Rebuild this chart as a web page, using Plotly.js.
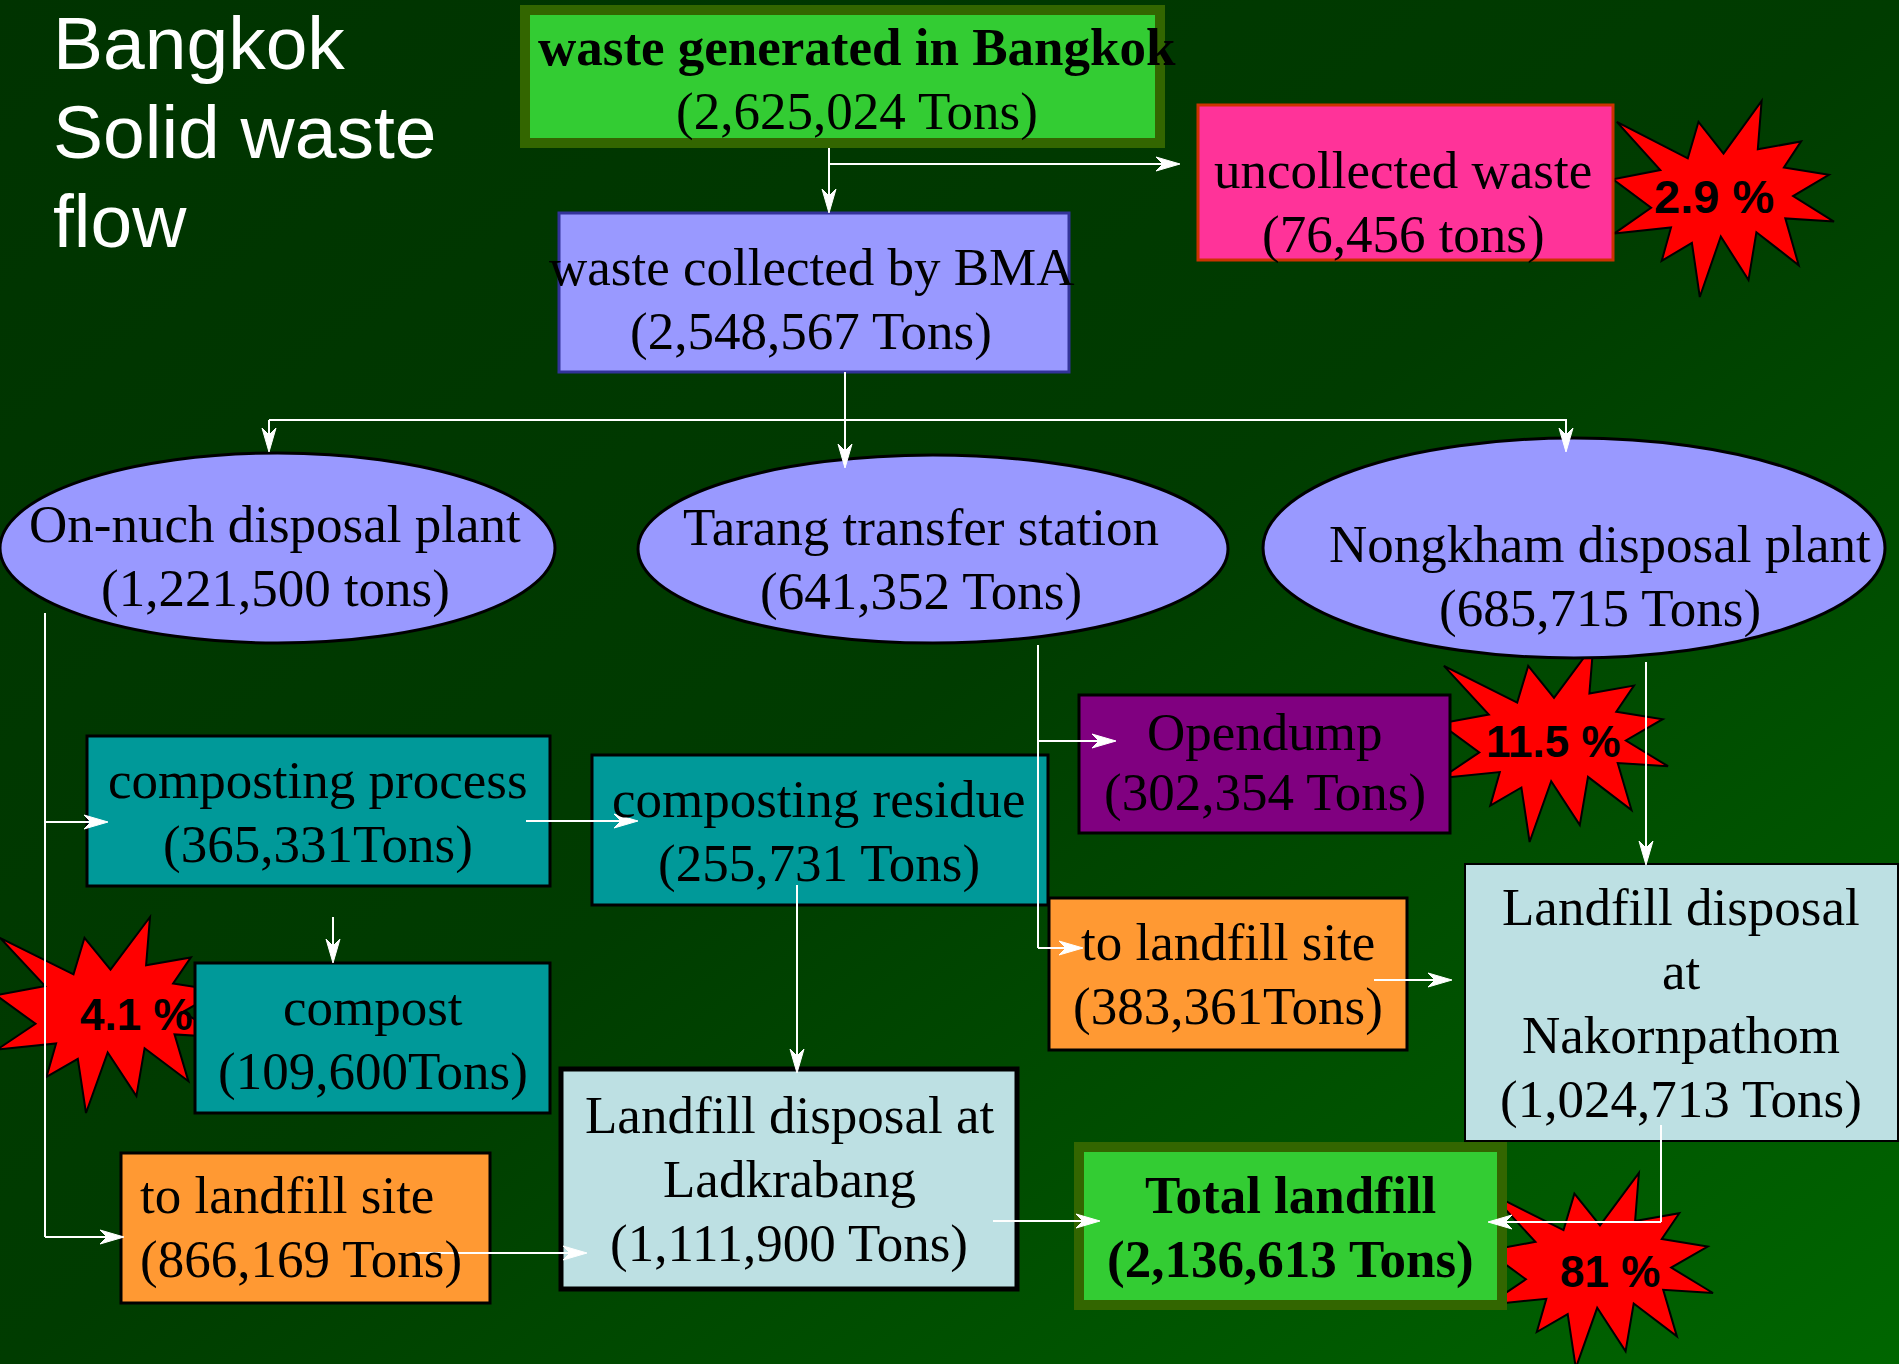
<!DOCTYPE html>
<html><head><meta charset="utf-8">
<script src="https://cdn.plot.ly/plotly-3.0.1.min.js"></script>
<style>
html,body{margin:0;padding:0;overflow:hidden;width:1899px;height:1364px;
background:linear-gradient(to bottom right,#003300 0%,#003c00 50%,#006600 100%);}
#chart{width:1899px;height:1364px;}
</style>
</head><body><div id="chart"></div>
<script>
// ---------- DATA ----------
const titleLines = ['Bangkok', 'Solid waste', 'flow'];
const nodeNames = [
  'waste generated in Bangkok',
  'uncollected waste',
  'waste collected by BMA',
  'On-nuch disposal plant',
  'Tarang transfer station',
  'Nongkham disposal plant',
  'composting process',
  'composting residue',
  'compost',
  'Opendump',
  'to landfill site',
  'to landfill site',
  'Landfill disposal at<br>Ladkrabang',
  'Landfill disposal<br>at<br>Nakornpathom',
  'Total landfill'
];
const nodeTons = [
  '2,625,024 Tons', '76,456 tons', '2,548,567 Tons', '1,221,500 tons',
  '641,352 Tons', '685,715 Tons', '365,331Tons', '255,731 Tons',
  '109,600Tons', '302,354 Tons', '866,169 Tons', '383,361Tons',
  '1,111,900 Tons', '1,024,713 Tons', '2,136,613 Tons'
];
const shareLabels = ['2.9 %', '11.5 %', '4.1 %', '81 %'];

// ---------- GEOMETRY / STYLE (pixel-like data coordinates) ----------
const nodeGeom = [
  {type:'rect', x0:525, y0:10, x1:1160, y1:143, fill:'#33cc33', line:'#336600', lw:10, tx:857, ty:65, anchor:'center', bold:[true,false]},
  {type:'rect', x0:1198, y0:105, x1:1613, y1:260, fill:'#ff3399', line:'#cc3300', lw:3, tx:1403, ty:188, anchor:'center'},
  {type:'rect', x0:559, y0:213, x1:1069, y1:372, fill:'#9999ff', line:'#333399', lw:3, tx:811, ty:285, anchor:'center'},
  {type:'circle', x0:0, y0:453, x1:555, y1:643, fill:'#9999ff', line:'#000000', lw:3, tx:275, ty:542, anchor:'center'},
  {type:'circle', x0:638, y0:455, x1:1228, y1:643, fill:'#9999ff', line:'#000000', lw:3, tx:921, ty:545, anchor:'center'},
  {type:'circle', x0:1263, y0:438, x1:1885, y1:658, fill:'#9999ff', line:'#000000', lw:3, tx:1600, ty:562, anchor:'center'},
  {type:'rect', x0:87, y0:736, x1:550, y1:886, fill:'#009999', line:'#000000', lw:3, tx:318, ty:798, anchor:'center'},
  {type:'rect', x0:592, y0:755, x1:1048, y1:905, fill:'#009999', line:'#000000', lw:3, tx:819, ty:817, anchor:'center'},
  {type:'rect', x0:195, y0:963, x1:550, y1:1113, fill:'#009999', line:'#000000', lw:3, tx:373, ty:1025, anchor:'center'},
  {type:'rect', x0:1079, y0:695, x1:1450, y1:833, fill:'#800080', line:'#000000', lw:3, tx:1265, ty:750, anchor:'center', gap:60},
  {type:'rect', x0:121, y0:1153, x1:490, y1:1303, fill:'#ff9933', line:'#000000', lw:3, tx:140, ty:1213, anchor:'left'},
  {type:'rect', x0:1049, y0:898, x1:1407, y1:1050, fill:'#ff9933', line:'#000000', lw:3, tx:1228, ty:960, anchor:'center'},
  {type:'rect', x0:561, y0:1069, x1:1017, y1:1289, fill:'#bde0e3', line:'#000000', lw:5, tx:789, ty:1133, anchor:'center'},
  {type:'rect', x0:1465, y0:864, x1:1898, y1:1141, fill:'#bde0e3', line:'#000000', lw:2, tx:1681, ty:925, anchor:'center'},
  {type:'rect', x0:1079, y0:1147, x1:1502, y1:1305, fill:'#33cc33', line:'#336600', lw:10, tx:1290, ty:1213, anchor:'center', bold:[true,true]}
];
const starGeom = [
  {x0:1613, y0:101, x1:1834, y1:297, tx:1714, ty:213, fs:47},
  {x0:1440, y0:645, x1:1668, y1:842, tx:1553, ty:757, fs:44},
  {x0:-4,   y0:917, x1:225,  y1:1113, tx:136, ty:1030, fs:44},
  {x0:1487, y0:1173, x1:1713, y1:1368, tx:1610, ty:1287, fs:44}
];
const plainLines = [
  [845,372,845,420], [269,420,1567,420], [45,613,45,1237],
  [1038,645,1038,948], [1661,1125,1661,1222]
];
const arrows = [
  [829,148,829,213], [829,164,1180,164],
  [269,420,269,452], [845,420,845,468], [1566,420,1566,452],
  [45,822,108,822], [45,1237,124,1237],
  [526,821,638,821], [333,917,333,963], [797,885,797,1073],
  [415,1253,587,1253],
  [1038,741,1116,741], [1038,948,1083,948],
  [1646,662,1646,865], [1374,980,1452,980],
  [993,1221,1100,1221], [1661,1222,1488,1222]
];
const SEAL = [[10800,5800],[14522,0],[14155,5325],[18380,4457],[16702,7315],[21097,8137],
  [17607,10475],[21600,13290],[16837,12942],[18145,18095],[14020,14457],[13247,19737],
  [10532,14935],[8485,21600],[7715,15627],[4762,17617],[5667,13937],[135,14587],
  [3722,11775],[0,8615],[4627,7617],[370,2295],[7312,6320],[8352,2295]];

const SERIF = 'Liberation Serif', SANS = 'Liberation Sans';
const FS = 53, GAP = 64;
const K_SERIF = 0.3375, K_SANS = 0.3465;

const shapes = [];
const annotations = [];

// starbursts (behind boxes)
starGeom.forEach(function(s){
  const w = s.x1 - s.x0, h = s.y1 - s.y0;
  const p = SEAL.map(function(pt, i){
    return (i ? 'L' : 'M') + (s.x0 + pt[0]/21600*w).toFixed(1) + ',' + (s.y0 + pt[1]/21600*h).toFixed(1);
  }).join('') + 'Z';
  shapes.push({type:'path', xref:'x', yref:'y', path:p, fillcolor:'#ff0000', line:{color:'#000000', width:2}});
});

// boxes and ellipses
nodeGeom.forEach(function(g){
  shapes.push({type:g.type, xref:'x', yref:'y', x0:g.x0, y0:g.y0, x1:g.x1, y1:g.y1,
    fillcolor:g.fill, line:{color:g.line, width:g.lw}});
});

// connector lines
plainLines.forEach(function(l){
  shapes.push({type:'line', xref:'x', yref:'y', x0:l[0], y0:l[1], x1:l[2], y1:l[3], line:{color:'#ffffff', width:2}});
});
// arrows with stealth heads
const HL = 24, HW = 7, NOTCH = 17;
arrows.forEach(function(a){
  const dx = a[2]-a[0], dy = a[3]-a[1], len = Math.hypot(dx, dy);
  const ux = dx/len, uy = dy/len, px = -uy, py = ux;
  const nx = a[2]-ux*NOTCH, ny = a[3]-uy*NOTCH;
  shapes.push({type:'line', xref:'x', yref:'y', x0:a[0], y0:a[1], x1:nx, y1:ny, line:{color:'#ffffff', width:2}});
  const bx = a[2]-ux*HL, by = a[3]-uy*HL;
  const p = 'M' + a[2] + ',' + a[3] +
    'L' + (bx+px*HW).toFixed(1) + ',' + (by+py*HW).toFixed(1) +
    'L' + nx.toFixed(1) + ',' + ny.toFixed(1) +
    'L' + (bx-px*HW).toFixed(1) + ',' + (by-py*HW).toFixed(1) + 'Z';
  shapes.push({type:'path', xref:'x', yref:'y', path:p, fillcolor:'#ffffff', line:{color:'#ffffff', width:1}});
});

function addText(txt, x, baseline, family, size, color, weight, anchor){
  const k = family === SANS ? K_SANS : K_SERIF;
  annotations.push({xref:'x', yref:'y', x:x, y:baseline - k*size, text:txt, showarrow:false,
    xanchor:anchor, yanchor:'middle', borderpad:0, borderwidth:0, align:anchor,
    font:{family:family, size:size, color:color, weight:weight}});
}

// title
titleLines.forEach(function(t, i){
  addText(t, 53, 69 + i*89, SANS, 75, '#ffffff', 'normal', 'left');
});

// node labels
nodeGeom.forEach(function(g, i){
  const lines = nodeNames[i].split('<br>');
  const bold = g.bold || [false, false];
  const gap = g.gap || GAP;
  lines.forEach(function(t, j){
    addText(t, g.tx, g.ty + j*gap, SERIF, FS, '#000000', bold[0] ? 'bold' : 'normal', g.anchor);
  });
  addText('(' + nodeTons[i] + ')', g.tx, g.ty + lines.length*gap, SERIF, FS, '#000000', bold[1] ? 'bold' : 'normal', g.anchor);
});

// percentage labels
starGeom.forEach(function(s, i){
  addText(shareLabels[i], s.tx, s.ty, SANS, s.fs, '#000000', 'bold', 'center');
});

const layout = {
  width:1899, height:1364, margin:{l:0, r:0, t:0, b:0},
  paper_bgcolor:'rgba(0,0,0,0)', plot_bgcolor:'rgba(0,0,0,0)',
  xaxis:{range:[0,1899], visible:false, fixedrange:true},
  yaxis:{range:[1364,0], visible:false, fixedrange:true},
  shapes:shapes, annotations:annotations, showlegend:false
};
Plotly.newPlot('chart', [], layout, {displayModeBar:false, staticPlot:true});
</script>
</body></html>
